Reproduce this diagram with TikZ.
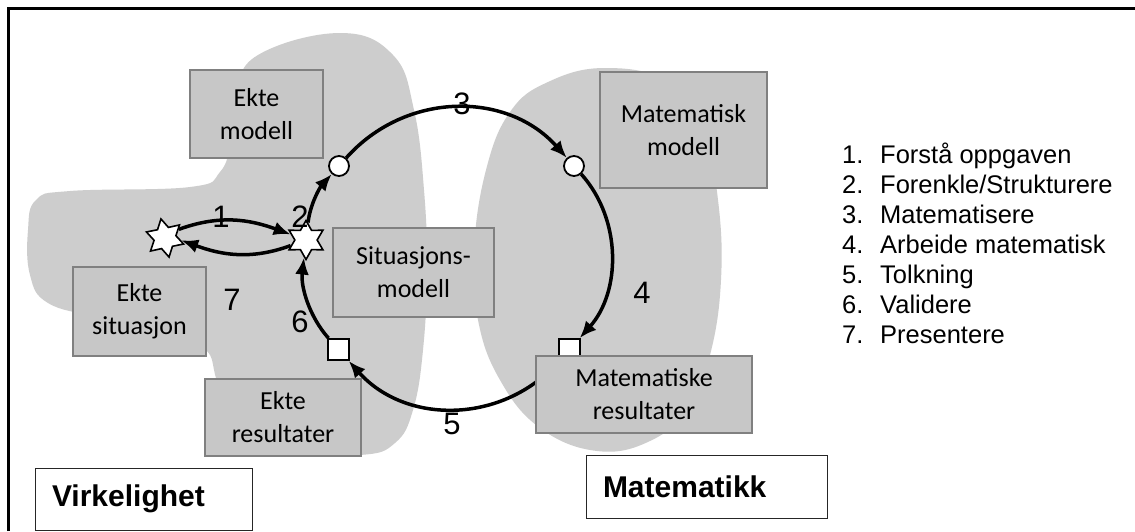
\documentclass[tikz,border=0pt]{standalone}
\usepackage{fontspec}
\setmainfont{Carlito}
\newfontfamily\arial{Liberation Sans}
\usetikzlibrary{shapes.geometric,arrows.meta}
\definecolor{blobgray}{RGB}{205,205,205}
\definecolor{boxgray}{RGB}{199,199,199}
\definecolor{boxline}{RGB}{128,128,128}
\begin{document}
\begin{tikzpicture}[x=1pt,y=1pt,
  box/.style={draw=boxline, fill=boxgray, line width=1.3pt, align=center,
    font=\fontsize{26}{33}\selectfont, inner sep=0pt},
  tagbox/.style={draw=black!85, fill=white, line width=1pt, align=left,
    font=\arial\bfseries\fontsize{30}{36}\selectfont, inner xsep=17pt, inner ysep=0pt},
  flow/.style={line width=3.5pt, -{Latex[length=17pt,width=14pt]}},
  ringmark/.style={circle, draw, fill=white, line width=1.8pt, minimum size=20pt, inner sep=0pt},
  sqmark/.style={rectangle, draw, fill=white, line width=1.8pt, minimum size=21pt, inner sep=0pt},
  burst/.style={star, star points=6, star point ratio=1.75, draw, fill=white,
    line width=1.6pt, minimum size=39pt, inner sep=0pt},
  num/.style={font=\arial\fontsize{31}{36}\selectfont, inner sep=0pt},
  listitem/.style={anchor=base west, font=\arial\fontsize{25.5}{30}\selectfont, inner sep=0pt}]

% page background
\fill[white] (0,0) rectangle (1135,-531);
\useasboundingbox (0,0) rectangle (1135,-531);

% frame (top and left edges)
\draw[line width=2.2pt] (8.5,-531) -- (8.5,-8.5) -- (1135,-8.5);

% reality region
\fill[blobgray] plot[smooth cycle, tension=0.7] coordinates {
  (340,-33) (393,-55) (414,-110) (424,-190) (427,-270) (423,-350) (413,-410)
  (395,-443) (360,-455) (280,-452) (228,-425) (216,-378) (206,-350) (175,-338)
  (100,-318) (48,-303) (30,-275) (28,-230) (36,-200) (70,-191) (190,-187)
  (220,-172) (231,-140) (236,-95) (258,-55)};

% mathematics region
\fill[blobgray] plot[smooth cycle, tension=0.7] coordinates {
  (605,-68) (548,-82) (510,-112) (486,-170) (474,-250) (478,-320) (500,-380)
  (540,-428) (597,-451) (650,-441) (688,-408) (710,-355) (721,-280) (718,-200)
  (703,-130) (668,-82)};

% stations on the cycle
\node[burst, rotate=12] (s1) at (165,-238) {};
\node[burst] (s2) at (306,-240) {};
\node[ringmark] (A) at (339,-166) {};
\node[ringmark] (B) at (574,-166) {};
\node[sqmark] (SR) at (569.5,-349.5) {};
\node[sqmark] (SL) at (338.5,-349.5) {};

% modelling cycle
\draw[flow] (s1.20) to[out=20,in=160] (s2.160);
\draw[flow] (s2.200) to[out=200,in=340] (s1.340);
\draw[flow] (s2) to[out=83.6,in=228.3,looseness=0.87] (A);
\draw[flow] (A) to[out=48.3,in=131.7,looseness=1.04] (B);
\draw[flow] (B) to[out=-48.3,in=48.3,looseness=0.96] (SR);
\draw[flow] (SR) to[out=-131.7,in=-48.3,looseness=1.04] (SL);
\draw[flow] (SL) to[out=131.7,in=263.6,looseness=0.89] (s2);

% boxes
\node[box, minimum width=133pt, minimum height=88pt] (ektemodell) at (256.5,-114) {Ekte\\modell};
\node[box, minimum width=167pt, minimum height=116pt] (matmodell) at (683.5,-130) {Matematisk\\modell};
\node[box, minimum width=161pt, minimum height=89pt] (sitmodell) at (413.5,-272.5) {Situasjons-\\modell};
\node[box, minimum width=133pt, minimum height=89pt] (ektesit) at (139.5,-311.5) {Ekte\\situasjon};
\node[box, minimum width=156pt, minimum height=77pt] (ekteres) at (283,-417.5) {Ekte\\resultater};
\node[box, minimum width=216pt, minimum height=77pt] (matres) at (644,-394.5) {Matematiske\\resultater};

% region tags
\node[tagbox, text width=183pt, minimum height=62pt] (virk) at (143.5,-499) {Virkelighet};
\node[tagbox, text width=207pt, minimum height=63pt] (matte) at (706.5,-486.5) {Matematikk};

% step numbers
\node[num] (n1) at (221,-217) {1};
\node[num] (n2) at (300,-217) {2};
\node[num] (n3) at (462,-104) {3};
\node[num] (n4) at (642,-293) {4};
\node[num] (n5) at (452,-424) {5};
\node[num] (n6) at (300,-322) {6};
\node[num] (n7) at (232,-300) {7};

% legend
\node[listitem] (l1) at (842,-163) {\makebox[38pt][l]{1.}Forstå oppgaven};
\node[listitem] (l2) at (842,-193) {\makebox[38pt][l]{2.}Forenkle/Strukturere};
\node[listitem] (l3) at (842,-223) {\makebox[38pt][l]{3.}Matematisere};
\node[listitem] (l4) at (842,-253) {\makebox[38pt][l]{4.}Arbeide matematisk};
\node[listitem] (l5) at (842,-283) {\makebox[38pt][l]{5.}Tolkning};
\node[listitem] (l6) at (842,-313) {\makebox[38pt][l]{6.}Validere};
\node[listitem] (l7) at (842,-343) {\makebox[38pt][l]{7.}Presentere};
\end{tikzpicture}
\end{document}
